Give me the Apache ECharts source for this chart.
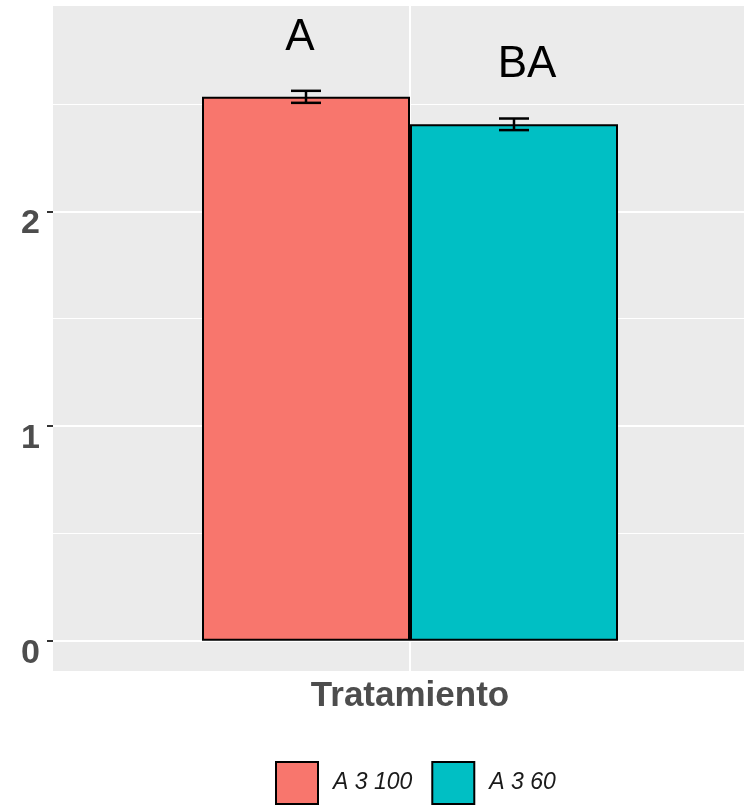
<!DOCTYPE html>
<html>
<head>
<meta charset="utf-8">
<script src="https://cdn.jsdelivr.net/npm/echarts@6/dist/echarts.min.js"></script>
<style>
  html, body { margin: 0; padding: 0; background: #ffffff; }
  #chart { width: 744px; height: 806px; }
</style>
</head>
<body>
<div id="chart"></div>
<script>
// Data
const categories = ['Tratamiento'];
const groups = ['A 3 100', 'A 3 60'];
const means = [2.533, 2.405];
const stdErrors = [0.028, 0.027];
const letters = ['A', 'BA'];
const yTickValues = [0, 1, 2];
const yMinorValues = [0.5, 1.5, 2.5];
const yRange = [-0.141, 2.956];

// Styles
const fills = ['#F8766D', '#00BFC4'];
const BAR_W = 208;
const CAP_W = 30;
const letterShift = [[-6, 0], [13, 0]];
const FONT = '"Liberation Sans", Arial, sans-serif';

const chart = echarts.init(document.getElementById('chart'));

const barSeries = groups.map((g, i) => ({
  name: g,
  type: 'bar',
  z: 2,
  barWidth: BAR_W,
  barGap: '0%',
  itemStyle: { color: fills[i], borderColor: '#000000', borderWidth: 2 },
  label: {
    show: true,
    position: 'top',
    distance: 37,
    offset: letterShift[i],
    formatter: () => letters[i],
    fontFamily: FONT,
    fontSize: 44,
    color: '#000000'
  },
  data: [means[i]]
}));

// Panel grid lines (white, beneath the bars)
const gridSeries = {
  type: 'line',
  z: 1,
  silent: true,
  data: [],
  markLine: {
    z: 1,
    silent: true,
    symbol: 'none',
    label: { show: false },
    emphasis: { disabled: true },
    data: [
      ...yMinorValues.map(v => ({ yAxis: v, lineStyle: { color: '#ffffff', width: 1, type: 'solid' } })),
      ...yTickValues.map(v => ({ yAxis: v, lineStyle: { color: '#ffffff', width: 2, type: 'solid' } })),
      ...categories.map(c => ({ xAxis: c, lineStyle: { color: '#ffffff', width: 2, type: 'solid' } }))
    ]
  }
};

// Error bars: mean ± standard error, one per group
const errorSeries = {
  type: 'custom',
  z: 3,
  silent: true,
  data: groups.map((g, i) => [0, means[i], stdErrors[i], i]),
  renderItem: (params, api) => {
    const idx = api.value(3);
    const m = api.value(1);
    const se = api.value(2);
    const base = api.coord([api.value(0), m]);
    const x = base[0] + (idx - (groups.length - 1) / 2) * BAR_W;
    const yHi = api.coord([0, m + se])[1];
    const yLo = api.coord([0, m - se])[1];
    const st = { stroke: '#000000', lineWidth: 2.5 };
    return {
      type: 'group',
      children: [
        { type: 'line', shape: { x1: x, y1: yHi, x2: x, y2: yLo }, style: st },
        { type: 'line', shape: { x1: x - CAP_W / 2, y1: yHi, x2: x + CAP_W / 2, y2: yHi }, style: st },
        { type: 'line', shape: { x1: x - CAP_W / 2, y1: yLo, x2: x + CAP_W / 2, y2: yLo }, style: st }
      ]
    };
  }
};

chart.setOption({
  animation: false,
  backgroundColor: '#ffffff',
  grid: {
    left: 53, top: 6, width: 714, height: 665,
    containLabel: false,
    outerBoundsMode: 'none',
    show: true, backgroundColor: '#EBEBEB', borderWidth: 0
  },
  legend: {
    data: groups,
    left: 270,
    top: 756,
    orient: 'horizontal',
    icon: 'rect',
    itemWidth: 42,
    itemHeight: 42,
    itemGap: 19,
    itemStyle: { borderColor: '#000000', borderWidth: 2 },
    textStyle: {
      fontFamily: FONT, fontSize: 23, fontStyle: 'italic', color: '#1A1A1A',
      padding: [0, 0, 0, 10]
    }
  },
  xAxis: {
    type: 'category',
    data: categories,
    axisLine: { show: false },
    axisTick: { show: true, alignWithLabel: true, length: 5, lineStyle: { color: '#333333', width: 2 } },
    axisLabel: {
      margin: 8, verticalAlign: 'top',
      fontFamily: FONT, fontSize: 35, fontWeight: 'bold', color: '#4D4D4D'
    },
    splitLine: { show: false }
  },
  yAxis: {
    type: 'value',
    min: yRange[0],
    max: yRange[1],
    axisLine: { show: false },
    axisTick: { show: true, length: 6, customValues: yTickValues, lineStyle: { color: '#333333', width: 2 } },
    axisLabel: {
      customValues: yTickValues,
      margin: 13,
      verticalAlign: 'top',
      lineHeight: 25,
      fontFamily: FONT, fontSize: 34, fontWeight: 'bold', color: '#4D4D4D'
    },
    splitLine: { show: false }
  },
  series: [gridSeries, ...barSeries, errorSeries]
});
</script>
</body>
</html>
